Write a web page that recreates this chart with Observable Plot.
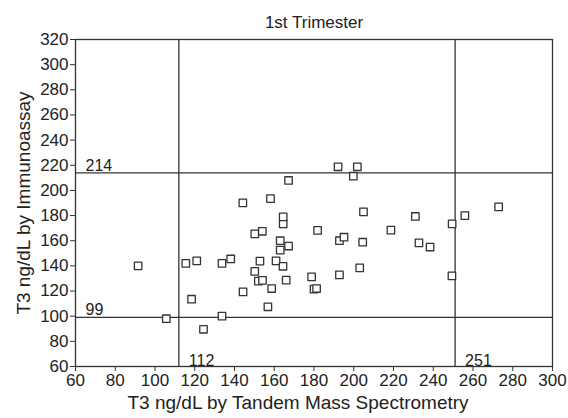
<!DOCTYPE html>
<html><head><meta charset="utf-8">
<script src="https://cdn.jsdelivr.net/npm/d3@7"></script>
<script src="https://cdn.jsdelivr.net/npm/@observablehq/plot@0.6"></script>
<style>body{margin:0;background:#fff;}</style>
</head><body><div id="chart"></div>
<script>
// T3 ng/dL by Tandem Mass Spectrometry (x) vs by Immunoassay (y), 1st trimester
const msValues = [91.5, 105.7, 115.5, 121, 133.7, 138.1, 118.4, 124.4, 133.7, 144.3,
  150.2, 152, 154.1, 152.8, 160.9, 164.4, 158.7, 156.8, 166, 178.8,
  180, 181.3, 192.8, 203, 249.4, 163, 167.2, 163, 150.2, 154,
  164.5, 164.5, 144.2, 158.1, 167.2, 181.8, 192.8, 195.1, 204.5, 204.9,
  218.7, 231, 232.8, 238.4, 249.5, 255.9, 272.9, 192.1, 201.8, 199.8];
const iaValues = [140, 98, 142, 144, 142, 145.5, 113.5, 89.6, 100, 119.3,
  135.6, 127.9, 128.5, 143.8, 144, 139.7, 122, 107.5, 128.7, 131.3,
  121.5, 122, 132.8, 138.4, 132, 152.5, 155.8, 160, 165.5, 167.5,
  173.4, 179, 190.1, 193.5, 207.9, 168.2, 160, 162.8, 158.8, 183,
  168.4, 179.3, 158.3, 155, 173.4, 180, 186.9, 218.8, 218.8, 211.3];
const refX = [112, 251];
const refY = [99, 214];
const xTicks = [60, 80, 100, 120, 140, 160, 180, 200, 220, 240, 260, 280, 300];
const yTicks = [60, 80, 100, 120, 140, 160, 180, 200, 220, 240, 260, 280, 300, 320];
const titleText = "1st Trimester";
const xLabel = "T3 ng/dL by Tandem Mass Spectrometry";
const yLabel = "T3 ng/dL by Immunoassay";

const data = msValues.map((x, i) => ({x, y: iaValues[i]}));
const ink = "#333";
const font = "'Liberation Sans', Arial, sans-serif";

const chart = Plot.plot({
  width: 568, height: 418,
  marginLeft: 75, marginRight: 16, marginTop: 39, marginBottom: 52,
  style: {fontFamily: font, fontSize: "17px", color: "#222", background: "#fff"},
  x: {domain: [60, 300], label: null},
  y: {domain: [60, 320], label: null},
  marks: [
    Plot.axisX({ticks: xTicks, tickSize: 5, tickPadding: 2, stroke: ink, fontSize: 17, fill: "#222", label: null}),
    Plot.axisY({ticks: yTicks, tickSize: 5, tickPadding: 2, stroke: ink, fontSize: 17, fill: "#222", label: null}),
    Plot.ruleX(refX, {x: d => d, stroke: ink, strokeWidth: 1.3}),
    Plot.ruleY(refY, {y: d => d, stroke: ink, strokeWidth: 1.3}),
    Plot.frame({stroke: ink, strokeWidth: 1.3}),
    Plot.dot(data, {x: "x", y: "y", symbol: "square", r: 4.2, stroke: ink, fill: "white", strokeWidth: 1.3, strokeLinejoin: "round"}),
    Plot.text(refY, {x: 60, y: d => d, text: d => String(d), dx: 10, dy: -2, textAnchor: "start", lineAnchor: "bottom", fontSize: 16, fill: "#222"}),
    Plot.text(refX, {x: d => d, y: 60, text: d => String(d), dx: 10, dy: -1, textAnchor: "start", lineAnchor: "bottom", fontSize: 16, fill: "#222"}),
    Plot.text([titleText], {frameAnchor: "top", text: d => d, dy: -12, textAnchor: "middle", lineAnchor: "bottom", fontSize: 17, fill: "#222"}),
    Plot.text([xLabel], {frameAnchor: "bottom", text: d => d, dx: -16, dy: 29, textAnchor: "middle", lineAnchor: "top", fontSize: 19, fill: "#222"}),
    Plot.text([yLabel], {frameAnchor: "left", text: d => d, dx: -46, rotate: -90, textAnchor: "middle", lineAnchor: "bottom", fontSize: 19, fill: "#222"})
  ]
});
document.getElementById("chart").appendChild(chart);
</script>
</body></html>
